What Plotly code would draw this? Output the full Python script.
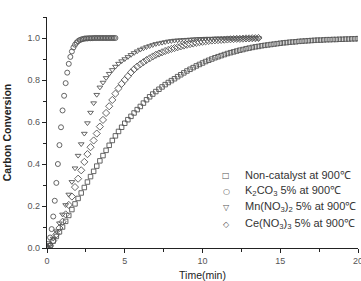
import plotly.graph_objects as go

# ---- data ----
t_k2co3 = [0.0, 0.1, 0.2, 0.3, 0.4, 0.5, 0.6, 0.7, 0.8, 0.9, 1.0, 1.1, 1.2, 1.3, 1.4, 1.5,
           1.6, 1.7, 1.8, 1.9, 2.0, 2.1, 2.2, 2.3, 2.4, 2.5, 2.6, 2.7, 2.8, 2.9, 3.0, 3.1,
           3.2, 3.3, 3.4, 3.5, 3.6, 3.7, 3.8, 3.9, 4.0, 4.1, 4.2, 4.3, 4.4]
y_k2co3 = [0.005, 0.02, 0.05, 0.09, 0.15, 0.225, 0.31, 0.40, 0.49, 0.575, 0.655, 0.725,
           0.785, 0.835, 0.877, 0.91, 0.936, 0.955, 0.968, 0.978, 0.985, 0.99, 0.993,
           0.995, 0.997, 0.998, 0.998, 0.999, 0.999, 0.999, 1.0, 1.0, 1.0, 1.0, 1.0, 1.0,
           1.0, 1.0, 1.0, 1.0, 1.0, 1.0, 1.0, 1.0, 1.0]

t_mn = [0.0, 0.2, 0.4, 0.6, 0.8, 1.0, 1.2, 1.4, 1.6, 1.8, 2.0, 2.2, 2.4, 2.6, 2.8, 3.0,
        3.2, 3.4, 3.6, 3.8, 4.0, 4.2, 4.4, 4.6, 4.8, 5.0, 5.2, 5.4, 5.6, 5.8, 6.0, 6.2,
        6.4, 6.6, 6.8, 7.0, 7.2, 7.4, 7.6, 7.8, 8.0, 8.2, 8.4, 8.6, 8.8, 9.0, 9.2, 9.4,
        9.6, 9.8, 10.0, 10.2, 10.4, 10.6, 10.8, 11.0, 11.2, 11.4, 11.6, 11.8, 12.0, 12.2,
        12.4, 12.6, 12.8, 13.0, 13.2, 13.4, 13.6]
y_mn = [0.0, 0.015, 0.045, 0.08, 0.118, 0.16, 0.205, 0.255, 0.315, 0.38, 0.44, 0.495,
        0.545, 0.595, 0.645, 0.69, 0.73, 0.765, 0.788, 0.81, 0.83, 0.848, 0.864, 0.878,
        0.89, 0.90, 0.91, 0.92, 0.929, 0.937, 0.945, 0.951, 0.957, 0.962, 0.967, 0.972,
        0.975, 0.978, 0.981, 0.984, 0.986, 0.988, 0.989, 0.99, 0.991, 0.992, 0.993, 0.994,
        0.995, 0.996, 0.996, 0.997, 0.997, 0.997, 0.998, 0.998, 0.998, 0.998, 0.999, 0.999,
        0.999, 0.999, 0.999, 1.0, 1.0, 1.0, 1.0, 1.0, 1.0]

t_ce = list(t_mn)
y_ce = [0.0, 0.01, 0.035, 0.065, 0.095, 0.125, 0.16, 0.205, 0.245, 0.29, 0.33, 0.37,
        0.41, 0.447, 0.48, 0.512, 0.545, 0.578, 0.61, 0.643, 0.675, 0.705, 0.735, 0.76,
        0.782, 0.80, 0.818, 0.836, 0.851, 0.864, 0.875, 0.885, 0.895, 0.903, 0.912, 0.92,
        0.926, 0.932, 0.938, 0.943, 0.948, 0.952, 0.956, 0.96, 0.964, 0.968, 0.971, 0.974,
        0.977, 0.98, 0.982, 0.984, 0.986, 0.988, 0.989, 0.99, 0.991, 0.992, 0.993, 0.994,
        0.995, 0.996, 0.996, 0.997, 0.998, 0.998, 0.999, 0.999, 1.0]

t_non = [0.0, 0.2, 0.4, 0.6, 0.8, 1.0, 1.2, 1.4, 1.6, 1.8, 2.0, 2.2, 2.4, 2.6, 2.8, 3.0,
         3.2, 3.4, 3.6, 3.8, 4.0, 4.2, 4.4, 4.6, 4.8, 5.0, 5.2, 5.4, 5.6, 5.8, 6.0, 6.2,
         6.4, 6.6, 6.8, 7.0, 7.2, 7.4, 7.6, 7.8, 8.0, 8.2, 8.4, 8.6, 8.8, 9.0, 9.2, 9.4,
         9.6, 9.8, 10.0, 10.2, 10.4, 10.6, 10.8, 11.0, 11.2, 11.4, 11.6, 11.8, 12.0, 12.2,
         12.4, 12.6, 12.8, 13.0, 13.2, 13.4, 13.6, 13.8, 14.0, 14.2, 14.4, 14.6, 14.8,
         15.0, 15.2, 15.4, 15.6, 15.8, 16.0, 16.2, 16.4, 16.6, 16.8, 17.0, 17.2, 17.4,
         17.6, 17.8, 18.0, 18.2, 18.4, 18.6, 18.8, 19.0, 19.2, 19.4, 19.6, 19.8, 20.0]
y_non = [0.0, 0.012, 0.033, 0.055, 0.077, 0.10, 0.127, 0.155, 0.183, 0.21, 0.236, 0.262,
         0.288, 0.314, 0.34, 0.365, 0.39, 0.415, 0.44, 0.465, 0.489, 0.512, 0.534, 0.555,
         0.575, 0.594, 0.611, 0.627, 0.643, 0.659, 0.674, 0.69, 0.706, 0.72, 0.733, 0.745,
         0.756, 0.767, 0.778, 0.788, 0.797, 0.806, 0.816, 0.825, 0.834, 0.843, 0.851,
         0.859, 0.867, 0.874, 0.881, 0.888, 0.894, 0.9, 0.906, 0.911, 0.916, 0.921, 0.926,
         0.93, 0.934, 0.938, 0.942, 0.945, 0.949, 0.952, 0.955, 0.958, 0.96, 0.963, 0.965,
         0.967, 0.969, 0.971, 0.973, 0.975, 0.977, 0.978, 0.98, 0.981, 0.982, 0.984, 0.985,
         0.986, 0.987, 0.988, 0.989, 0.99, 0.99, 0.991, 0.992, 0.992, 0.993, 0.993, 0.994,
         0.994, 0.995, 0.995, 0.996, 0.996, 0.997]

names = ["Non-catalyst at 900℃",
         "K<sub>2</sub>CO<sub>3</sub> 5% at 900℃",
         "Mn(NO<sub>3</sub>)<sub>2</sub> 5% at 900℃",
         "Ce(NO<sub>3</sub>)<sub>3</sub> 5% at 900℃"]
legend_symbols = ["□", "○", "▽", "◇"]

FONT = "Arial, Liberation Sans, sans-serif"
MK = "#555555"

fig = go.Figure()
series = [(t_non, y_non, "square-open", 4.5),
          (t_k2co3, y_k2co3, "circle-open", 5),
          (t_mn, y_mn, "triangle-down-open", 5),
          (t_ce, y_ce, "diamond-open", 5.5)]
for (t, y, sym, sz), nm in zip(series, names):
    fig.add_trace(go.Scatter(x=t, y=y, mode="markers", name=nm, showlegend=False,
                             marker=dict(symbol=sym, size=sz, color=MK,
                                         line=dict(width=0.9, color=MK))))

axis_common = dict(showline=True, linecolor="#222222", linewidth=1.3, showgrid=False,
                   zeroline=False, ticks="outside", ticklen=4, tickwidth=1.2,
                   tickcolor="#222222", mirror=False, ticklabeloverflow="allow",
                   automargin=False,
                   tickfont=dict(family=FONT, size=9, color="#555555"))

fig.update_xaxes(range=[0, 20], dtick=5, tick0=0,
                 minor=dict(dtick=2.5, ticklen=2.5, tickcolor="#222222", ticks="outside"),
                 title=dict(text="Time(min)", font=dict(family=FONT, size=10.5, color="#222222"),
                            standoff=10),
                 **axis_common)
fig.update_yaxes(range=[0, 1.1], dtick=0.2, tick0=0, tickformat=".1f",
                 minor=dict(dtick=0.1, ticklen=2.5, tickcolor="#222222", ticks="outside"),
                 title=dict(text="<b>Carbon Conversion</b>",
                            font=dict(family=FONT, size=10.5, color="#222222"), standoff=13),
                 **axis_common)

# legend drawn as text annotations
leg_y = [0.316, 0.246, 0.177, 0.103]
for sym, nm, yy in zip(legend_symbols, names, leg_y):
    fig.add_annotation(x=0.577, y=yy, xref="paper", yref="paper", text=sym,
                       showarrow=False, xanchor="center", yanchor="middle",
                       font=dict(family="DejaVu Sans", size=8, color=MK))
    fig.add_annotation(x=0.630, y=yy, xref="paper", yref="paper", text=nm,
                       showarrow=False, xanchor="left", yanchor="middle",
                       font=dict(family=FONT, size=11, color="#333333"))

fig.update_layout(
    width=361, height=281,
    margin=dict(l=47, r=3, t=17, b=33),
    paper_bgcolor="white", plot_bgcolor="white",
    showlegend=False,
)

fig.write_html("out.html")
